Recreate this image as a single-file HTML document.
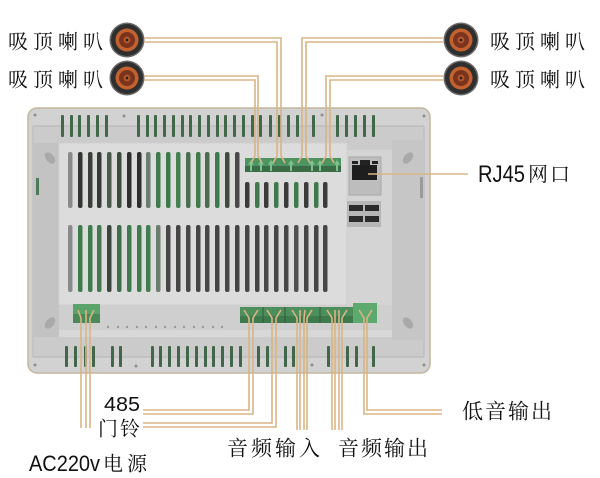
<!DOCTYPE html>
<html><head><meta charset="utf-8"><style>
html,body{margin:0;padding:0;background:#fff;}
svg{display:block;}
.cj{font-family:"Noto Serif CJK SC","Noto Sans CJK SC",serif;fill:#111;}
.lt{font-family:"Liberation Sans","Noto Sans CJK SC",sans-serif;fill:#111;}
.w{fill:none;stroke:#d8b585;stroke-width:1.6;}
.ts{fill:#42684a;}
.bs{fill:#41664a;}
</style></head><body>
<svg width="600" height="478" viewBox="0 0 600 478" xmlns="http://www.w3.org/2000/svg">
<rect width="600" height="478" fill="#fff"/>

<!-- device body -->
<rect x="28" y="108" width="402" height="265" rx="9" fill="#d2d2d2" stroke="#c4b59c" stroke-width="1.5"/>
<rect x="33" y="126" width="391" height="231" fill="#cbcbcb"/>
<line x1="33" y1="126" x2="424" y2="126" stroke="#b4b4b4"/>
<line x1="33" y1="357" x2="424" y2="357" stroke="#b4b4b4"/>
<line x1="33" y1="126" x2="33" y2="357" stroke="#b8b8b8"/>
<line x1="424" y1="126" x2="424" y2="357" stroke="#b8b8b8"/>
<rect x="33" y="143" width="26" height="194" fill="#c3c3c3"/>
<rect x="59" y="305" width="333" height="32" fill="#cfcfcf"/>
<rect x="59" y="330" width="333" height="7" fill="#d8d8d8"/>
<rect x="392" y="140" width="32" height="200" fill="#c6c6c6"/>
<!-- RJ45 area -->
<rect x="345" y="150" width="47" height="155" fill="#d4d4d4"/>
<!-- cover plate -->
<rect x="59" y="143" width="288" height="162" fill="#dcdcdc" stroke="#cfcfcf"/>

<!-- screw dots -->
<g fill="#8e8e8e">
<circle cx="35" cy="115" r="1.5"/><circle cx="124" cy="116" r="1.5"/><circle cx="322" cy="115" r="1.5"/><circle cx="424" cy="116" r="1.5"/>
<circle cx="35" cy="365" r="1.5"/><circle cx="136" cy="366" r="1.5"/><circle cx="312" cy="365" r="1.5"/><circle cx="424" cy="365" r="1.5"/>
</g>
<!-- ovals -->
<g fill="#a9a9a9">
<ellipse cx="50" cy="158" rx="4" ry="6.5" transform="rotate(-40 50 158)"/>
<ellipse cx="408" cy="158" rx="4" ry="6.5" transform="rotate(40 408 158)"/>
<ellipse cx="50" cy="323" rx="4" ry="6.5" transform="rotate(40 50 323)"/>
<ellipse cx="408" cy="323" rx="4" ry="6.5" transform="rotate(-40 408 323)"/>
</g>
<rect x="36" y="178" width="3" height="17" fill="#4f7a57"/>
<rect x="420" y="177" width="3" height="21" fill="#9a9a9a"/>

<!-- top bezel slots -->
<g class="ts">
<rect x="61" y="115" width="3" height="22" rx="1"/><rect x="70" y="115" width="3" height="22" rx="1"/><rect x="78" y="115" width="3" height="22" rx="1"/><rect x="87" y="115" width="3" height="22" rx="1"/><rect x="96" y="115" width="3" height="22" rx="1"/><rect x="105" y="115" width="3" height="22" rx="1"/>
<rect x="137" y="115" width="3" height="22" rx="1"/><rect x="146" y="115" width="3" height="22" rx="1"/><rect x="154" y="115" width="3" height="22" rx="1"/><rect x="163" y="115" width="3" height="22" rx="1"/><rect x="172" y="115" width="3" height="22" rx="1"/><rect x="181" y="115" width="3" height="22" rx="1"/><rect x="189" y="115" width="3" height="22" rx="1"/><rect x="198" y="115" width="3" height="22" rx="1"/><rect x="207" y="115" width="3" height="22" rx="1"/><rect x="216" y="115" width="3" height="22" rx="1"/><rect x="224" y="115" width="3" height="22" rx="1"/><rect x="233" y="115" width="3" height="22" rx="1"/><rect x="242" y="115" width="3" height="22" rx="1"/><rect x="251" y="115" width="3" height="22" rx="1"/><rect x="259" y="115" width="3" height="22" rx="1"/><rect x="269" y="115" width="3" height="22" rx="1"/><rect x="278" y="115" width="3" height="22" rx="1"/><rect x="287" y="115" width="3" height="22" rx="1"/><rect x="296" y="115" width="3" height="22" rx="1"/><rect x="312" y="115" width="3" height="22" rx="1"/>
<rect x="336" y="115" width="3" height="22" rx="1"/><rect x="345" y="115" width="3" height="22" rx="1"/><rect x="354" y="115" width="3" height="22" rx="1"/><rect x="363" y="115" width="3" height="22" rx="1"/><rect x="372" y="115" width="3" height="22" rx="1"/>
</g>
<!-- bottom bezel slots -->
<g class="bs">
<rect x="65" y="346" width="3" height="21" rx="1"/><rect x="74" y="346" width="3" height="21" rx="1"/><rect x="84" y="346" width="3" height="21" rx="1"/><rect x="92" y="346" width="3" height="21" rx="1"/><rect x="111" y="346" width="3" height="21" rx="1"/><rect x="119" y="346" width="3" height="21" rx="1"/>
<rect x="151" y="346" width="3" height="21" rx="1"/><rect x="159" y="346" width="3" height="21" rx="1"/><rect x="168" y="346" width="3" height="21" rx="1"/><rect x="177" y="346" width="3" height="21" rx="1"/><rect x="186" y="346" width="3" height="21" rx="1"/><rect x="195" y="346" width="3" height="21" rx="1"/><rect x="204" y="346" width="3" height="21" rx="1"/><rect x="212" y="346" width="3" height="21" rx="1"/><rect x="221" y="346" width="3" height="21" rx="1"/><rect x="230" y="346" width="3" height="21" rx="1"/><rect x="239" y="346" width="3" height="21" rx="1"/><rect x="257" y="346" width="3" height="21" rx="1"/><rect x="266" y="346" width="3" height="21" rx="1"/><rect x="284" y="346" width="3" height="21" rx="1"/><rect x="292" y="346" width="3" height="21" rx="1"/>
<rect x="327" y="346" width="3" height="21" rx="1"/><rect x="346" y="346" width="3" height="21" rx="1"/><rect x="355" y="346" width="3" height="21" rx="1"/><rect x="372" y="346" width="3" height="21" rx="1"/>
</g>

<!-- cover vents row 1 -->
<g>
<rect x="68" y="152" width="4.5" height="56" rx="2" fill="#8a8a8a"/>
<rect x="78" y="152" width="4.5" height="56" rx="2" fill="#333"/>
<rect x="88" y="152" width="4.5" height="56" rx="2" fill="#3a3f3a"/>
<rect x="97" y="152" width="4.5" height="56" rx="2" fill="#363a37"/>
<rect x="107" y="152" width="4.5" height="56" rx="2" fill="#4a5a4c"/>
<rect x="117" y="152" width="4.5" height="56" rx="2" fill="#3d4a3f"/>
<rect x="127" y="152" width="4.5" height="56" rx="2" fill="#2f2f2f"/>
<rect x="137" y="152" width="4.5" height="56" rx="2" fill="#2e2e2e"/>
<rect x="146" y="152" width="4.5" height="56" rx="2" fill="#6a7d6c"/>
<rect x="156" y="152" width="4.5" height="56" rx="2" fill="#3f7a4c"/>
<rect x="166" y="152" width="4.5" height="56" rx="2" fill="#3d7a4b"/>
<rect x="176" y="152" width="4.5" height="56" rx="2" fill="#447f50"/>
<rect x="186" y="152" width="4.5" height="56" rx="2" fill="#4a6d52"/>
<rect x="196" y="152" width="4.5" height="56" rx="2" fill="#3f7a4c"/>
<rect x="205" y="152" width="4.5" height="56" rx="2" fill="#4d6b53"/>
<rect x="215" y="152" width="4.5" height="56" rx="2" fill="#3f7a4c"/>
<rect x="225" y="152" width="4.5" height="56" rx="2" fill="#3f4a41"/>
<rect x="235" y="152" width="4.5" height="56" rx="2" fill="#4a4a4a"/>
<rect x="245" y="182" width="4.5" height="26" rx="2" fill="#3b3b3b"/>
<rect x="255" y="182" width="4.5" height="26" rx="2" fill="#3f7a4c"/>
<rect x="264" y="182" width="4.5" height="26" rx="2" fill="#3b3b3b"/>
<rect x="274" y="182" width="4.5" height="26" rx="2" fill="#3f7a4c"/>
<rect x="284" y="182" width="4.5" height="26" rx="2" fill="#3b3b3b"/>
<rect x="294" y="182" width="4.5" height="26" rx="2" fill="#3f7a4c"/>
<rect x="304" y="182" width="4.5" height="26" rx="2" fill="#3b3b3b"/>
<rect x="314" y="182" width="4.5" height="26" rx="2" fill="#3f7a4c"/>
<rect x="323" y="182" width="4.5" height="26" rx="2" fill="#3b3b3b"/>
</g>
<!-- cover vents row 2 -->
<g>
<rect x="68" y="225" width="4.5" height="67" rx="2" fill="#8a8a8a"/>
<rect x="78" y="225" width="4.5" height="67" rx="2" fill="#3f7a4c"/>
<rect x="88" y="225" width="4.5" height="67" rx="2" fill="#3f7a4c"/>
<rect x="97" y="225" width="4.5" height="67" rx="2" fill="#41784d"/>
<rect x="107" y="225" width="4.5" height="67" rx="2" fill="#3a463c"/>
<rect x="117" y="225" width="4.5" height="67" rx="2" fill="#3f6d4a"/>
<rect x="127" y="225" width="4.5" height="67" rx="2" fill="#3f7a4c"/>
<rect x="137" y="225" width="4.5" height="67" rx="2" fill="#3f7a4c"/>
<rect x="146" y="225" width="4.5" height="67" rx="2" fill="#427d4f"/>
<rect x="156" y="225" width="4.5" height="67" rx="2" fill="#6b7d6d"/>
<rect x="166" y="225" width="4.5" height="67" rx="2" fill="#474747"/>
<rect x="176" y="225" width="4.5" height="67" rx="2" fill="#454545"/>
<rect x="186" y="225" width="4.5" height="67" rx="2" fill="#474747"/>
<rect x="196" y="225" width="4.5" height="67" rx="2" fill="#454545"/>
<rect x="205" y="225" width="4.5" height="67" rx="2" fill="#474747"/>
<rect x="215" y="225" width="4.5" height="67" rx="2" fill="#454545"/>
<rect x="225" y="225" width="4.5" height="67" rx="2" fill="#474747"/>
<rect x="235" y="225" width="4.5" height="67" rx="2" fill="#454545"/>
<rect x="245" y="225" width="4.5" height="67" rx="2" fill="#474747"/>
<rect x="255" y="225" width="4.5" height="67" rx="2" fill="#454545"/>
<rect x="264" y="225" width="4.5" height="67" rx="2" fill="#474747"/>
<rect x="274" y="225" width="4.5" height="67" rx="2" fill="#454545"/>
<rect x="284" y="225" width="4.5" height="67" rx="2" fill="#474747"/>
<rect x="294" y="225" width="4.5" height="67" rx="2" fill="#505050"/>
<rect x="304" y="225" width="4.5" height="67" rx="2" fill="#474747"/>
<rect x="314" y="225" width="4.5" height="67" rx="2" fill="#454545"/>
<rect x="323" y="225" width="4.5" height="67" rx="2" fill="#474747"/>
</g>
<!-- small dots row under cover -->
<g fill="#9a9a9a">
<circle cx="108" cy="327" r="1.2"/><circle cx="118" cy="327" r="1.2"/><circle cx="127" cy="327" r="1.2"/><circle cx="137" cy="327" r="1.2"/><circle cx="146" cy="327" r="1.2"/><circle cx="156" cy="327" r="1.2"/><circle cx="165" cy="327" r="1.2"/><circle cx="175" cy="327" r="1.2"/><circle cx="184" cy="327" r="1.2"/><circle cx="194" cy="327" r="1.2"/><circle cx="203" cy="327" r="1.2"/><circle cx="213" cy="327" r="1.2"/><circle cx="222" cy="327" r="1.2"/>
</g>

<!-- RJ45 modules -->
<rect x="349" y="157" width="32" height="38" fill="#bdbdbd" stroke="#a9a9a9"/>
<rect x="352" y="161" width="6" height="3" fill="#222"/>
<rect x="372" y="161" width="6" height="3" fill="#222"/>
<rect x="360" y="160" width="10" height="6" fill="#222"/>
<rect x="352" y="165" width="25" height="15" fill="#1e1e1e"/>
<rect x="347" y="201" width="34" height="26" fill="#b6b6b6"/>
<rect x="349" y="205" width="14" height="6" fill="#2a2a2a"/>
<rect x="365" y="205" width="14" height="6" fill="#2a2a2a"/>
<rect x="349" y="216" width="14" height="6" fill="#2a2a2a"/>
<rect x="365" y="216" width="14" height="6" fill="#2a2a2a"/>

<!-- top terminal block -->
<rect x="245" y="158" width="96" height="14" fill="#4f9460"/>
<rect x="245" y="166" width="96" height="6" fill="#3a6c47"/>
<g fill="#7cc38f">
<polygon points="251,160 254,164.5 252,164.5 252,171 250,171 250,164.5 248,164.5"/>
<polygon points="261,160 264,164.5 262,164.5 262,171 260,171 260,164.5 258,164.5"/>
<polygon points="271,160 274,164.5 272,164.5 272,171 270,171 270,164.5 268,164.5"/>
<polygon points="291,160 294,164.5 292,164.5 292,171 290,171 290,164.5 288,164.5"/>
<polygon points="312,160 315,164.5 313,164.5 313,171 311,171 311,164.5 309,164.5"/>
<polygon points="320,160 323,164.5 321,164.5 321,171 319,171 319,164.5 317,164.5"/>
<polygon points="337,160 340,164.5 338,164.5 338,171 336,171 336,164.5 334,164.5"/>
</g>

<!-- bottom terminal blocks -->
<rect x="73" y="304" width="27" height="19" fill="#5aa36a"/>
<rect x="73" y="314" width="27" height="9" fill="#4a8a58"/>
<rect x="240" y="307" width="113" height="16" fill="#4c8f5c"/>
<rect x="240" y="316" width="113" height="7" fill="#3f7a4d"/>
<rect x="353" y="303" width="24" height="20" fill="#5eaa6e"/>
<g stroke="#2f5a3a" stroke-width="1">
<line x1="263" y1="307" x2="263" y2="323"/><line x1="285" y1="307" x2="285" y2="323"/><line x1="320" y1="307" x2="320" y2="323"/>
</g>

<!-- speakers -->
<g>
<circle cx="127" cy="40" r="17.5" fill="#6a6a6a"/><circle cx="127" cy="40" r="16" fill="#2f2f2f"/><circle cx="127" cy="40" r="11.5" fill="#c4622f"/><circle cx="127" cy="40" r="8" fill="#7a341d"/><circle cx="127" cy="40" r="3.5" fill="#b0552c"/><circle cx="127" cy="40" r="1.3" fill="#222"/>
<circle cx="127" cy="78" r="17.5" fill="#6a6a6a"/><circle cx="127" cy="78" r="16" fill="#2f2f2f"/><circle cx="127" cy="78" r="11.5" fill="#c4622f"/><circle cx="127" cy="78" r="8" fill="#7a341d"/><circle cx="127" cy="78" r="3.5" fill="#b0552c"/><circle cx="127" cy="78" r="1.3" fill="#222"/>
<circle cx="461" cy="40" r="17.5" fill="#6a6a6a"/><circle cx="461" cy="40" r="16" fill="#2f2f2f"/><circle cx="461" cy="40" r="11.5" fill="#c4622f"/><circle cx="461" cy="40" r="8" fill="#7a341d"/><circle cx="461" cy="40" r="3.5" fill="#b0552c"/><circle cx="461" cy="40" r="1.3" fill="#222"/>
<circle cx="461" cy="78" r="17.5" fill="#6a6a6a"/><circle cx="461" cy="78" r="16" fill="#2f2f2f"/><circle cx="461" cy="78" r="11.5" fill="#c4622f"/><circle cx="461" cy="78" r="8" fill="#7a341d"/><circle cx="461" cy="78" r="3.5" fill="#b0552c"/><circle cx="461" cy="78" r="1.3" fill="#222"/>
</g>

<!-- top wires -->
<g class="w">
<path d="M144,38 H281 V156 L285,163"/>
<path d="M144,42 H277 V156 L273,163"/>
<path d="M144,76 H258 V156 L262,163"/>
<path d="M144,80 H255 V156 L251,163"/>
<path d="M444,38 H302 V156 L298,163"/>
<path d="M444,42 H306 V156 L310,163"/>
<path d="M444,76 H326 V156 L322,163"/>
<path d="M444,80 H330 V156 L334,163"/>
<path d="M368,174 H468"/>
</g>

<!-- bottom wires -->
<g class="w">
<path d="M78,310 L81,318 V428"/>
<path d="M86,310 V428"/>
<path d="M94,310 L90,318 V428"/>
<path d="M244,310 L249,318 V410 H143"/>
<path d="M258,310 L253,318 V414 H143"/>
<path d="M267,310 L272,318 V423 H143"/>
<path d="M281,310 L276,318 V427 H143"/>
<path d="M292,310 L297,318 V430"/>
<path d="M300,310 L300,318 V430"/>
<path d="M305,310 L304,318 V430"/>
<path d="M312,310 L307,318 V430"/>
<path d="M327,310 L332,318 V430"/>
<path d="M335,310 L335,318 V430"/>
<path d="M339,310 L339,318 V430"/>
<path d="M347,310 L342,318 V430"/>
<path d="M359,310 L364,318 V414 H442"/>
<path d="M372,310 L367,318 V410 H442"/>
</g>

<!-- labels -->
<text class="cj" x="8" y="48.5" font-size="20" textLength="95" lengthAdjust="spacing">吸顶喇叭</text>
<text class="cj" x="8" y="86.5" font-size="20" textLength="95" lengthAdjust="spacing">吸顶喇叭</text>
<text class="cj" x="490" y="48.5" font-size="20" textLength="95" lengthAdjust="spacing">吸顶喇叭</text>
<text class="cj" x="490" y="86.5" font-size="20" textLength="95" lengthAdjust="spacing">吸顶喇叭</text>
<text class="lt" x="478" y="182" font-size="24" textLength="47" lengthAdjust="spacingAndGlyphs">RJ45</text>
<text class="cj" x="528" y="181" font-size="20" textLength="42" lengthAdjust="spacing">网口</text>
<text class="lt" x="104" y="411" font-size="20" textLength="36" lengthAdjust="spacingAndGlyphs">485</text>
<text class="cj" x="98" y="435.5" font-size="20" textLength="42" lengthAdjust="spacing">门铃</text>
<text class="lt" x="29" y="471" font-size="22" textLength="71" lengthAdjust="spacingAndGlyphs">AC220v</text>
<text class="cj" x="103" y="470.5" font-size="20" textLength="44" lengthAdjust="spacing">电源</text>
<text class="cj" x="227" y="455.5" font-size="21" textLength="93" lengthAdjust="spacing">音频输入</text>
<text class="cj" x="338" y="455.5" font-size="21" textLength="90" lengthAdjust="spacing">音频输出</text>
<text class="cj" x="462" y="418.5" font-size="21" textLength="90" lengthAdjust="spacing">低音输出</text>
</svg>
</body></html>
